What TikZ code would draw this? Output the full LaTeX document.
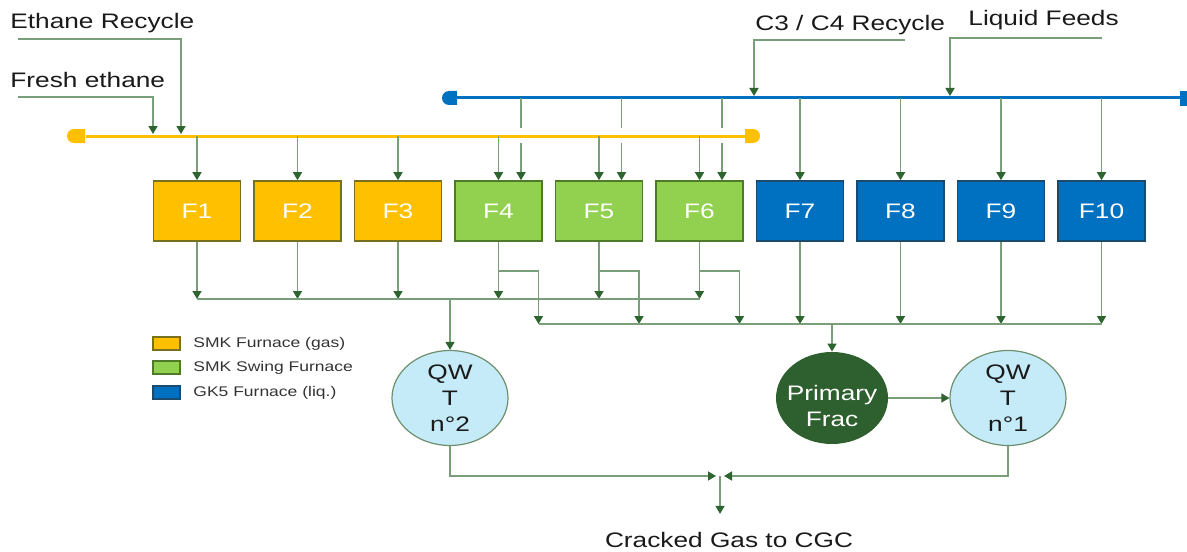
\documentclass[tikz,border=0pt]{standalone}
\usepackage{fontspec}
\setmainfont{Liberation Sans}[FakeStretch=1.25]
\usetikzlibrary{arrows.meta,shapes.geometric}
\usepackage{xcolor}
\definecolor{smkgas}{HTML}{FFC000}
\definecolor{smkgasedge}{HTML}{77711F}
\definecolor{smkswing}{HTML}{92D050}
\definecolor{smkswingedge}{HTML}{4E7A2A}
\definecolor{gkliq}{HTML}{0070C0}
\definecolor{gkliqedge}{HTML}{1A4A6E}
\definecolor{linegreen}{HTML}{7A9E7A}
\definecolor{tipgreen}{HTML}{2E6430}
\definecolor{qwfill}{HTML}{C5EBF9}
\definecolor{qwedge}{HTML}{6E8F6E}
\definecolor{fracgreen}{HTML}{2E5F2E}
\definecolor{textgray}{HTML}{1A1A1A}

\begin{document}
\begin{tikzpicture}[x=0.5pt,y=-0.5pt,>={Triangle[length=4pt,width=4.5pt,color=tipgreen]},
	font=\fontsize{10.5}{13}\selectfont, text=textgray,
	feed/.style={->,draw=linegreen,line width=0.75pt},
	pipe/.style={draw=linegreen,line width=0.75pt},
	furnace/.style={draw,line width=0.8pt,minimum width=43.5pt,minimum height=30pt,inner sep=0pt,text=white},
	gasbox/.style={fill=smkgas,draw=smkgasedge},
	swingbox/.style={fill=smkswing,draw=smkswingedge},
	liqbox/.style={fill=gkliq,draw=gkliqedge},
	quench/.style={ellipse,draw=qwedge,line width=0.6pt,fill=qwfill,minimum width=58pt,minimum height=47.5pt,inner sep=0pt,align=center},
	feedtext/.style={anchor=west,inner sep=0pt}]
	\useasboundingbox (0,0) rectangle (1187,551);
	% headers
	\coordinate (hy) at (0,136);
	\coordinate (hb) at (0,98);
	\coordinate (c1) at (0,299);
	\coordinate (c2) at (0,324);
	\draw[smkgas,line width=1.5pt] (86,136) -- (745,136);
	\fill[smkgas] (85,129) -- (74,129) arc[start angle=90,end angle=270,radius=3.5pt] -- (85,143) -- cycle;
	\fill[smkgas] (745,129) -- (753,129) arc[start angle=90,end angle=-90,radius=3.5pt] -- (745,143) -- cycle;
	\draw[gkliq,line width=1.5pt] (457,98) -- (1180,98);
	\fill[gkliq] (457,91) -- (449,91) arc[start angle=90,end angle=270,radius=3.5pt] -- (457,105) -- cycle;
	\fill[gkliq] (1180,91) rectangle (1187,106);
	% feeds
	\node[feedtext] (ethrec) at (10,23) {Ethane Recycle};
	\node[feedtext] (fresh) at (10,80) {Fresh ethane};
	\node[feedtext] (c34rec) at (755,25) {C3 / C4 Recycle};
	\node[feedtext] (liqfeed) at (968,20) {Liquid Feeds};
	\draw[feed] (18,39) -| (181,134);
	\draw[feed] (18,97) -| (153,134);
	\draw[feed] (905,40) -| (754,96);
	\draw[feed] (1102,38) -| (950,96);
	% furnaces
	\foreach \i/\x/\c in {1/197/gasbox, 2/297.5/gasbox, 3/398/gasbox,
			4/498.5/swingbox, 5/599/swingbox, 6/699.5/swingbox,
			7/800/liqbox, 8/900.5/liqbox, 9/1001/liqbox, 10/1101.5/liqbox} {
		\node[furnace,\c] (f\i) at (\x,211) {F\i};
	};
	\foreach \i in {1,...,6} {
		\draw[feed] (f\i.north |- hy) -- (f\i.north);
		\draw[feed] (f\i.south) -- (f\i.south |- c1);
	};
	\foreach \i in {7,...,10} {
		\draw[feed] (f\i.north |- hb) -- (f\i.north);
		\draw[feed] (f\i.south) -- (f\i.south |- c2);
	};
	\foreach \i in {4,5,6} {
		\draw[pipe] ([xshift=11.25pt]f\i.north |- hb) -- ([xshift=11.25pt]f\i.north |- 0,128);
		\draw[feed] ([xshift=11.25pt]f\i.north |- 0,143) -- ([xshift=11.25pt]f\i.north);
		\draw[feed] ([yshift=-14.5pt]f\i.south) -| ([xshift=20pt]f\i.south |- c2);
	};
	\draw[pipe] (f1.south |- c1) -- (f6.south |- c1);
	\draw[pipe] ([xshift=20pt]f4.south |- c2) -- (f10.south |- c2);
	% quench and fractionation
	\node[quench] (qwt2) at (450,398) {QW\\T\\n°2};
	\node[ellipse,fill=fracgreen,minimum width=56pt,minimum height=46pt,inner sep=0pt] (frac) at (832,398) {};
	\node[align=center,text=white,inner sep=0pt] (fractext) at ([yshift=-4pt]frac.center) {Primary\\Frac};
	\node[quench] (qwt1) at (1008,398) {QW\\T\\n°1};
	\draw[feed] (qwt2.north |- c1) -- (qwt2.north);
	\draw[feed] (frac.north |- c2) -- (frac.north);
	\draw[feed] (frac) -- (qwt1);
	\coordinate (cg) at (720,476);
	\node[inner sep=0pt] (cgc) at (729,540) {Cracked Gas to CGC};
	\draw[feed] (qwt2.south) |- ([xshift=-2pt]cg);
	\draw[feed] (qwt1.south) |- ([xshift=2pt]cg);
	\draw[feed] (cg) -- ([yshift=9pt]cg |- cgc.north);
	% legend
	\foreach \n/\y/\c/\t in {1/337/gasbox/SMK Furnace (gas), 2/361/swingbox/SMK Swing Furnace,
			3/386/liqbox/GK5 Furnace (liq.)} {
		\draw[\c,line width=0.8pt] (153,\y) rectangle (180,\y+13);
		\node[anchor=west,inner sep=0pt,font=\fontsize{7}{8}\selectfont,text=black!80] (leg\n) at (193,\y+7) {\t};
	};
\end{tikzpicture}
\end{document}
